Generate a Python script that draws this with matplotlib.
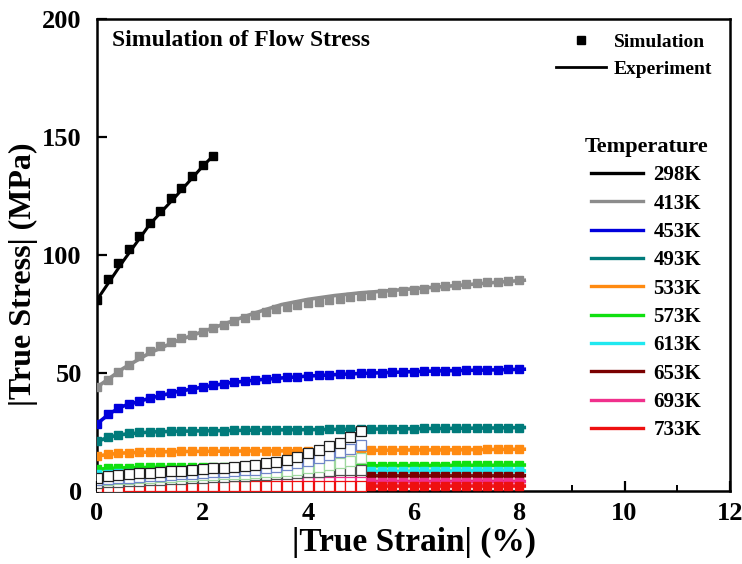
import matplotlib
matplotlib.use("Agg")
import matplotlib.pyplot as plt
from matplotlib.lines import Line2D
from matplotlib.ticker import MultipleLocator

plt.rcParams["font.family"] = ["Liberation Serif", "DejaVu Serif"]
plt.rcParams["font.weight"] = "bold"

# ---------------- data ----------------
TEMPERATURES = ["298K", "413K", "453K", "493K", "533K", "573K", "613K", "653K", "693K", "733K"]
COLORS = ["#000000", "#8c8c8c", "#0000dc", "#007b7b", "#ff8a10", "#10e010",
          "#20e8f0", "#7a0000", "#f0308c", "#ee1010"]

# simulated flow stress, strain step 0.2 %
STRAIN_298 = [0.0, 0.2, 0.4, 0.6, 0.8, 1.0, 1.2, 1.4, 1.6, 1.8, 2.0, 2.2]
SIM_298 = [81.0, 90.0, 96.5, 102.5, 108.0, 113.5, 118.5, 124.0, 128.5, 133.5, 138.0, 142.0]

STRAIN = [0.0, 0.2, 0.4, 0.6, 0.8, 1.0, 1.2, 1.4, 1.6, 1.8, 2.0, 2.2, 2.4, 2.6, 2.8,
          3.0, 3.2, 3.4, 3.6, 3.8, 4.0, 4.2, 4.4, 4.6, 4.8, 5.0, 5.2, 5.4, 5.6, 5.8,
          6.0, 6.2, 6.4, 6.6, 6.8, 7.0, 7.2, 7.4, 7.6, 7.8, 8.0]
SIM_413 = [44.0, 47.0, 50.5, 53.5, 57.0, 59.5, 61.5, 63.0, 64.7, 66.0, 67.5, 69.0, 70.5, 72.0,
           73.3, 74.6, 76.0, 77.0, 78.0, 78.8, 79.5, 80.2, 80.9, 81.5, 82.0, 82.5, 83.1, 83.7,
           84.3, 84.8, 85.3, 85.8, 86.3, 86.8, 87.2, 87.6, 88.0, 88.4, 88.7, 89.0, 89.2]
SIM_453 = [28.5, 32.5, 35.0, 36.8, 38.0, 39.3, 40.5, 41.5, 42.3, 43.2, 44.0, 44.8, 45.5, 46.0,
           46.5, 47.0, 47.4, 47.8, 48.1, 48.4, 48.7, 49.0, 49.2, 49.4, 49.6, 49.8, 50.0, 50.2,
           50.3, 50.5, 50.6, 50.7, 50.8, 50.9, 51.0, 51.1, 51.2, 51.3, 51.4, 51.5, 51.6]
SIM_493 = [21.0, 22.8, 23.8, 24.5, 24.9, 25.1, 25.2, 25.3, 25.4, 25.5, 25.5, 25.6, 25.6, 25.7,
           25.7, 25.8, 25.8, 25.9, 25.9, 26.0, 26.0, 26.0, 26.1, 26.1, 26.2, 26.2, 26.3, 26.3,
           26.4, 26.4, 26.4, 26.5, 26.5, 26.5, 26.6, 26.6, 26.7, 26.7, 26.8, 26.8, 26.9]
SIM_533 = [14.8, 15.5, 16.0, 16.3, 16.5, 16.6, 16.7, 16.7, 16.8, 16.8, 16.9, 16.9, 16.9, 17.0,
           17.0, 17.0, 17.0, 17.1, 17.1, 17.1, 17.1, 17.2, 17.2, 17.2, 17.2, 17.3, 17.3, 17.3,
           17.3, 17.4, 17.4, 17.4, 17.4, 17.5, 17.5, 17.5, 17.5, 17.6, 17.6, 17.6, 17.7]
SIM_573 = [9.2, 9.6, 9.8, 9.9, 10.0, 10.0, 10.1, 10.1, 10.1, 10.2, 10.2, 10.2, 10.3, 10.3,
           10.3, 10.3, 10.4, 10.4, 10.4, 10.4, 10.5, 10.5, 10.5, 10.5, 10.6, 10.6, 10.6, 10.7,
           10.7, 10.7, 10.8, 10.8, 10.8, 10.8, 10.9, 10.9, 10.9, 10.9, 11.0, 11.0, 11.0]
SIM_613 = [7.0, 7.4, 7.6, 7.7, 7.8, 7.8, 7.9, 7.9, 7.9, 8.0, 8.0, 8.0, 8.0, 8.1,
           8.1, 8.1, 8.1, 8.2, 8.2, 8.2, 8.2, 8.2, 8.3, 8.3, 8.3, 8.3, 8.3, 8.4,
           8.4, 8.4, 8.4, 8.4, 8.4, 8.4, 8.5, 8.5, 8.5, 8.5, 8.5, 8.5, 8.5]
SIM_653 = [5.2, 5.5, 5.7, 5.8, 5.9, 6.0, 6.0, 6.1, 6.1, 6.1, 6.2, 6.2, 6.2, 6.2,
           6.3, 6.3, 6.3, 6.3, 6.3, 6.4, 6.4, 6.4, 6.4, 6.4, 6.4, 6.4, 6.5, 6.5,
           6.5, 6.5, 6.5, 6.5, 6.5, 6.5, 6.5, 6.5, 6.5, 6.5, 6.5, 6.5, 6.5]
SIM_693 = [3.4, 3.5, 3.6, 3.6, 3.7, 3.7, 3.7, 3.7, 3.7, 3.7, 3.7, 3.7, 3.7, 3.7,
           3.7, 3.7, 3.7, 3.7, 3.7, 3.7, 3.7, 3.7, 3.7, 3.7, 3.7, 3.7, 3.7, 3.7,
           3.7, 3.7, 3.7, 3.7, 3.7, 3.7, 3.7, 3.7, 3.7, 3.7, 3.7, 3.7, 3.7]
SIM_733 = [1.8, 1.9, 1.9, 2.0, 2.0, 2.0, 2.0, 2.0, 2.0, 2.0, 2.0, 2.0, 2.0, 2.0,
           2.0, 2.0, 2.0, 2.0, 2.0, 2.0, 2.0, 2.0, 2.0, 2.0, 2.0, 2.0, 2.0, 2.0,
           2.0, 2.0, 2.0, 2.0, 2.0, 2.0, 2.0, 2.0, 2.0, 2.0, 2.0, 2.0, 2.0]

# experimental flow stress
EXP_STRAIN_298 = [0.0, 0.5, 1.0, 1.5, 2.0, 2.2]
EXP_298 = [81.0, 97.5, 113.0, 125.0, 137.5, 142.0]
EXP_STRAIN = [0.0, 0.25, 0.5, 1.0, 1.5, 2.0, 2.5, 3.0, 3.5, 4.0, 4.5, 5.0, 5.5, 6.0, 6.5, 7.0, 7.5, 8.1]
EXP_413 = [44.0, 48.0, 52.0, 58.5, 63.5, 67.5, 71.5, 75.5, 79.0, 81.2, 82.8, 84.0, 84.8, 85.7, 86.5, 87.4, 88.3, 89.3]
EXP_453 = [28.5, 33.0, 36.0, 39.3, 42.0, 44.0, 45.8, 47.0, 47.9, 48.7, 49.3, 49.8, 50.2, 50.6, 50.9, 51.1, 51.3, 51.6]
EXP_493 = [21.0, 23.0, 24.0, 25.0, 25.3, 25.5, 25.6, 25.8, 25.9, 26.0, 26.1, 26.2, 26.3, 26.4, 26.5, 26.6, 26.7, 26.9]
EXP_533 = [14.8, 15.6, 16.1, 16.5, 16.7, 16.8, 16.9, 17.0, 17.0, 17.1, 17.2, 17.2, 17.3, 17.4, 17.4, 17.5, 17.6, 17.7]
EXP_573 = [9.2, 9.6, 9.8, 10.0, 10.1, 10.2, 10.3, 10.3, 10.4, 10.5, 10.5, 10.6, 10.7, 10.8, 10.8, 10.9, 10.9, 11.0]
EXP_613 = [7.0, 7.5, 7.7, 7.8, 7.9, 8.0, 8.0, 8.1, 8.1, 8.2, 8.2, 8.3, 8.3, 8.4, 8.4, 8.5, 8.5, 8.5]
EXP_653 = [5.2, 5.6, 5.8, 6.0, 6.1, 6.2, 6.2, 6.3, 6.3, 6.4, 6.4, 6.4, 6.5, 6.5, 6.5, 6.5, 6.5, 6.5]
EXP_693 = [3.4, 3.6, 3.7, 3.8, 3.9, 3.9, 4.0, 4.0, 4.0, 4.0, 4.0, 4.0, 4.0, 4.0, 4.0, 4.0, 4.0, 4.0]
EXP_733 = [1.8, 1.9, 2.0, 2.0, 2.1, 2.1, 2.1, 2.1, 2.1, 2.1, 2.1, 2.1, 2.1, 2.1, 2.1, 2.1, 2.1, 2.1]

# additional low-stress runs up to 5 % strain (open symbols)
OPEN_STRAIN = [0.0, 0.2, 0.4, 0.6, 0.8, 1.0, 1.2, 1.4, 1.6, 1.8, 2.0, 2.2, 2.4,
               2.6, 2.8, 3.0, 3.2, 3.4, 3.6, 3.8, 4.0, 4.2, 4.4, 4.6, 4.8, 5.0]
OPEN_RUN_A = [5.5, 6.3, 6.8, 7.2, 7.5, 7.8, 8.2, 8.5, 8.6, 8.9, 9.2, 9.6, 9.9,
              10.3, 10.7, 11.0, 11.7, 12.4, 13.1, 14.5, 16.0, 17.4, 19.2, 20.5, 23.0, 25.6]
OPEN_RUN_B = [4.5, 5.0, 5.3, 5.6, 5.9, 6.2, 6.5, 6.8, 7.0, 7.3, 7.6, 7.9, 8.2,
              8.5, 8.8, 9.1, 9.6, 10.2, 10.9, 11.8, 12.8, 14.0, 15.2, 16.5, 18.0, 19.6]
OPEN_RUN_C = [4.5, 4.8, 5.0, 5.2, 5.4, 5.6, 5.8, 6.0, 6.2, 6.4, 6.6, 6.8, 7.0,
              7.2, 7.4, 7.6, 7.9, 8.2, 8.6, 9.0, 9.6, 10.3, 11.0, 11.8, 12.7, 13.8]
OPEN_RUN_D = [3.5, 3.8, 4.0, 4.2, 4.4, 4.6, 4.8, 5.0, 5.2, 5.4, 5.6, 5.8, 6.0,
              6.2, 6.4, 6.6, 6.8, 7.0, 7.3, 7.6, 7.9, 8.2, 8.5, 8.7, 8.9, 9.1]

SIM_LONG = [SIM_413, SIM_453, SIM_493, SIM_533, SIM_573, SIM_613, SIM_653, SIM_693, SIM_733]
EXP_LONG = [EXP_413, EXP_453, EXP_493, EXP_533, EXP_573, EXP_613, EXP_653, EXP_693, EXP_733]

# ---------------- figure ----------------
fig = plt.figure(figsize=(7.42, 5.64), dpi=100)
ax = fig.add_axes([97 / 742, 1 - 491 / 564, (730 - 97) / 742, (491 - 19) / 564])

MS = 6.2

# experiment curves
ax.plot(EXP_STRAIN_298, EXP_298, color=COLORS[0], lw=2.2, zorder=2)
for col, ys in zip(COLORS[1:], EXP_LONG):
    ax.plot(EXP_STRAIN, ys, color=col, lw=2.6, zorder=2)

# simulation points
ax.plot(STRAIN_298, SIM_298, ls="none", marker="s", ms=MS, color=COLORS[0], zorder=3)
for i, (col, ys) in enumerate(zip(COLORS[1:], SIM_LONG)):
    temp = TEMPERATURES[i + 1]
    if temp in ("653K", "693K", "733K"):
        xs_f = [x for x in STRAIN if x > 5.05]
        ys_f = [y for x, y in zip(STRAIN, ys) if x > 5.05]
        xs_o = [x for x in STRAIN if x <= 5.05]
        ys_o = [y for x, y in zip(STRAIN, ys) if x <= 5.05]
        ax.plot(xs_f, ys_f, ls="none", marker="s", ms=MS, color=col, zorder=3)
        ax.plot(xs_o, ys_o, ls="none", marker="s", ms=MS + 0.4, mfc="white",
                mec=col, mew=0.9, zorder=4)
    else:
        ax.plot(STRAIN, ys, ls="none", marker="s", ms=MS, color=col, zorder=3)

# open-symbol runs to 5 % strain
ax.plot(OPEN_STRAIN, OPEN_RUN_D, ls="none", marker="s", ms=MS + 0.6, mfc="white",
        mec="#505050", mew=0.9, zorder=5)
ax.plot(OPEN_STRAIN, OPEN_RUN_C, color="#9fd89f", lw=1.0, marker="s", ms=MS + 0.6,
        mfc="white", mec="#9fd89f", mew=0.9, zorder=5)
ax.plot(OPEN_STRAIN, OPEN_RUN_B, color="#6f86c8", lw=1.0, marker="s", ms=MS + 0.6,
        mfc="white", mec="#6f86c8", mew=0.9, zorder=5)
ax.plot(OPEN_STRAIN, OPEN_RUN_A, color="#000000", lw=1.2, marker="s", ms=MS + 0.6,
        mfc="white", mec="#202020", mew=0.9, zorder=6)

# ---------------- axes styling ----------------
ax.set_xlim(0, 12)
ax.set_ylim(0, 200)
ax.xaxis.set_major_locator(MultipleLocator(2))
ax.xaxis.set_minor_locator(MultipleLocator(1))
ax.yaxis.set_major_locator(MultipleLocator(50))
for s in ax.spines.values():
    s.set_linewidth(1.8)
ax.tick_params(axis="both", which="major", direction="in", length=7, width=1.6,
               labelsize=19, top=False, right=False)
ax.tick_params(axis="x", which="minor", direction="in", length=4, width=1.4, top=False)
ax.tick_params(axis="y", which="major", pad=11)
ax.tick_params(axis="x", which="major", pad=8)
for lbl in ax.get_xticklabels() + ax.get_yticklabels():
    lbl.set_fontweight("bold")

ax.set_xlabel("|True Strain| (%)", fontsize=24, fontweight="bold", labelpad=1)
ax.set_ylabel("|True Stress| (MPa)", fontsize=23, fontweight="bold")
ax.yaxis.set_label_coords(-0.093, 0.46)

ax.text(0.023, 0.955, "Simulation of Flow Stress", transform=ax.transAxes,
        fontsize=17, fontweight="bold", va="center", ha="left")

# symbol legend
sym_handles = [Line2D([], [], ls="none", marker="s", ms=5.5, color="black"),
               Line2D([], [], color="black", lw=2)]
leg1 = ax.legend(sym_handles, ["Simulation", "Experiment"], loc="upper right",
                 bbox_to_anchor=(0.995, 1.0), frameon=False, handlelength=2.6,
                 handletextpad=0.4, labelspacing=0.45, borderaxespad=0.35,
                 prop={"family": "Liberation Serif", "weight": "bold", "size": 14})
ax.add_artist(leg1)

# temperature legend
temp_handles = [Line2D([], [], color=c, lw=2.4) for c in COLORS]
leg2 = ax.legend(temp_handles, TEMPERATURES, loc="upper right",
                 bbox_to_anchor=(0.995, 0.79), frameon=False, handlelength=2.5,
                 handletextpad=0.5, labelspacing=0.4,
                 prop={"family": "Liberation Serif", "weight": "bold", "size": 15},
                 title="Temperature",
                 title_fontproperties={"family": "Liberation Serif", "weight": "bold", "size": 16})

fig.savefig("out.png", dpi=100)
